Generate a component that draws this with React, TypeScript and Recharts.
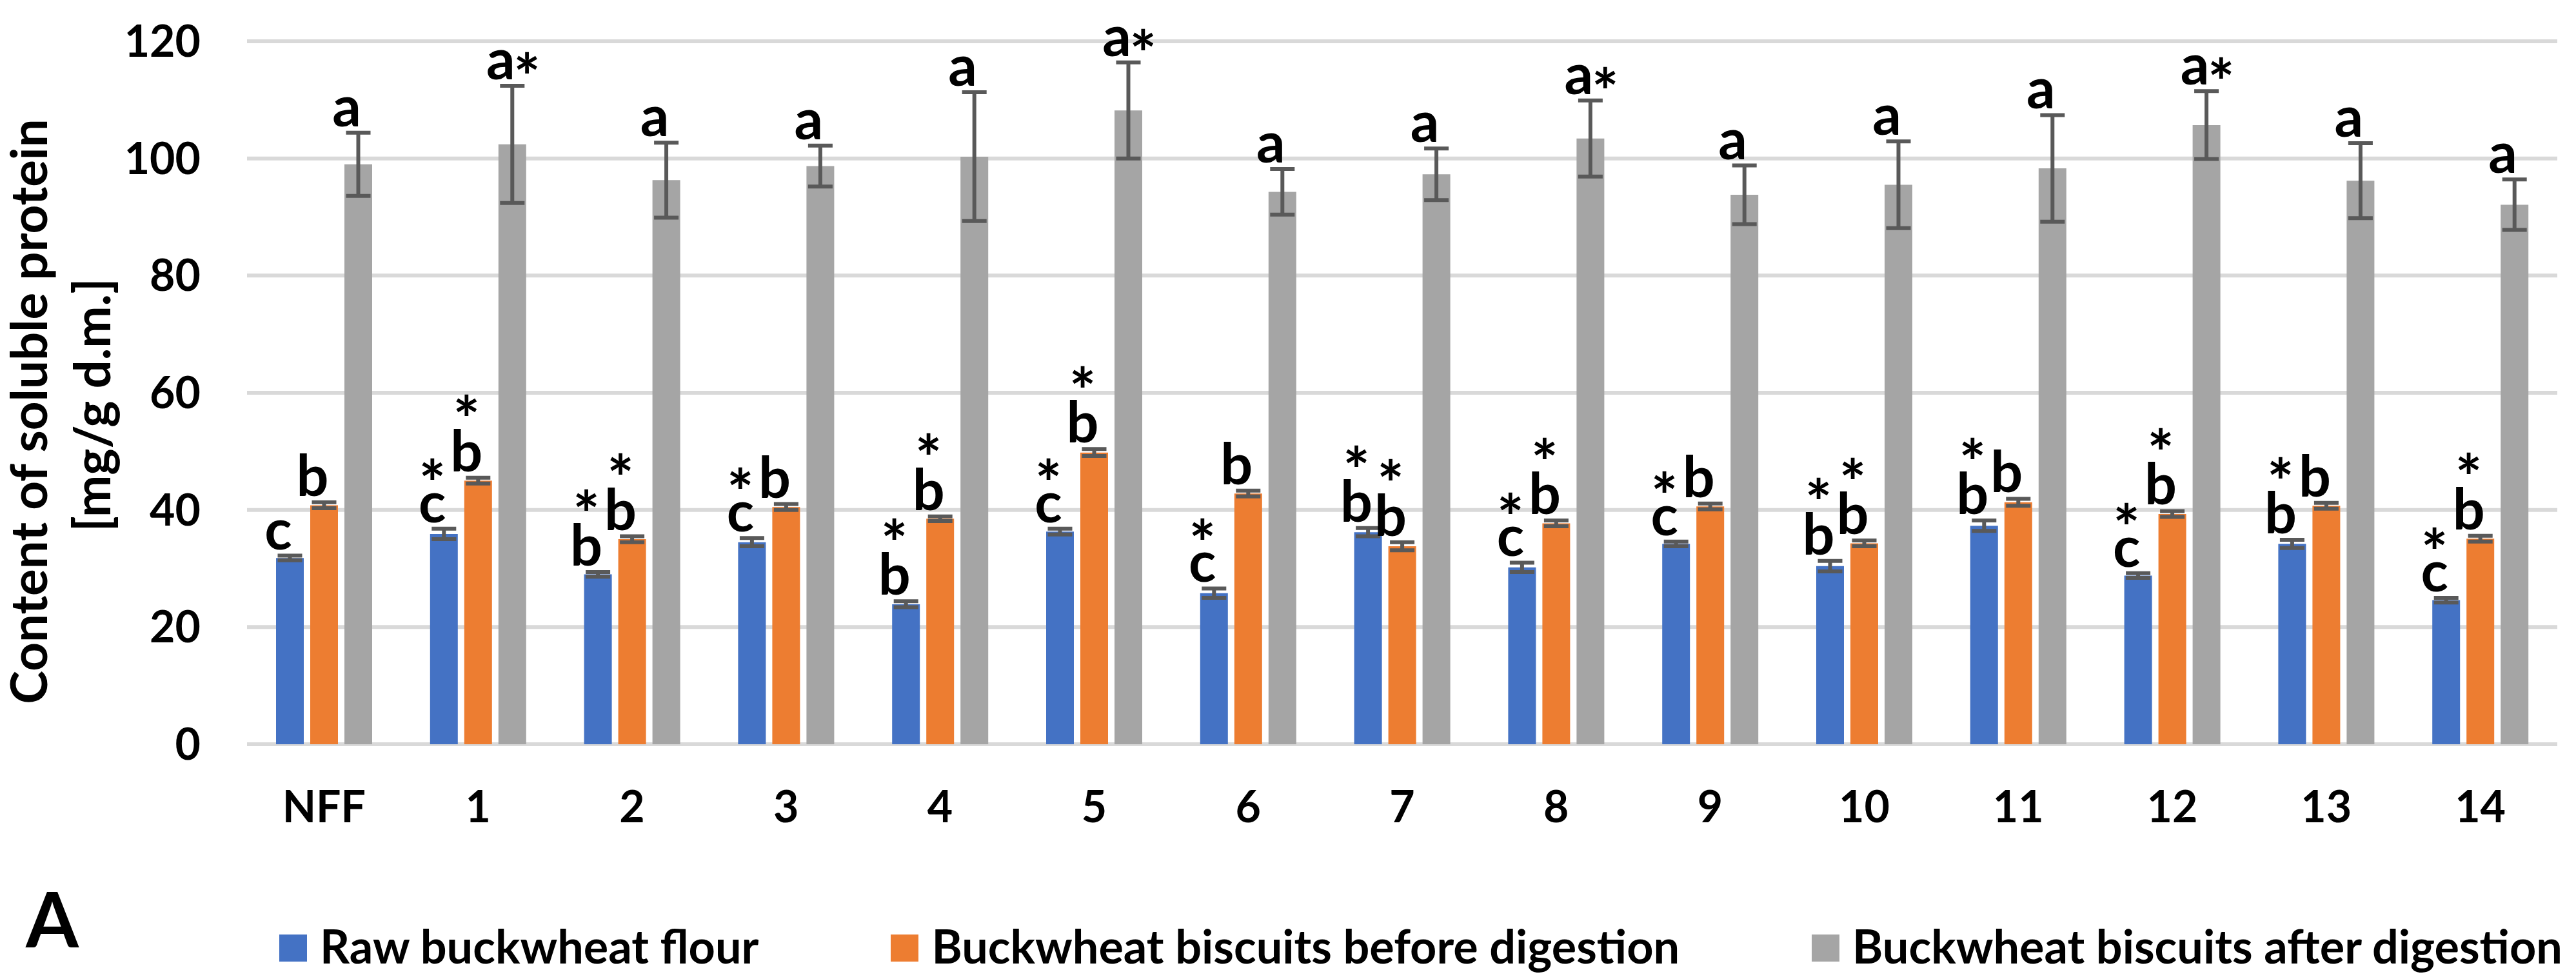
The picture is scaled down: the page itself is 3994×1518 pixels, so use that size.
import React from 'react';
import { BarChart, Bar, XAxis, YAxis, CartesianGrid, ErrorBar, LabelList } from 'recharts';

const categories = ['NFF', '1', '2', '3', '4', '5', '6', '7', '8', '9', '10', '11', '12', '13', '14'];

const rawFlour = [31.8, 35.9, 29.0, 34.5, 23.9, 36.3, 25.8, 36.2, 30.2, 34.2, 30.4, 37.3, 28.8, 34.2, 24.6];
const rawFlourErr = [0.4, 0.9, 0.4, 0.7, 0.5, 0.5, 0.8, 0.7, 0.8, 0.4, 0.9, 0.9, 0.4, 0.7, 0.4];
const rawFlourMarks = ['c', '*c', '*b', '*c', '*b', '*c', '*c', '*b', '*c', '*c', '*b', '*b', '*c', '*b', '*c'];

const beforeDigestion = [40.8, 45.0, 35.0, 40.5, 38.5, 49.8, 42.8, 33.8, 37.7, 40.6, 34.3, 41.3, 39.3, 40.7, 35.1];
const beforeErr = [0.5, 0.5, 0.5, 0.5, 0.4, 0.6, 0.5, 0.7, 0.5, 0.5, 0.5, 0.6, 0.5, 0.5, 0.5];
const beforeMarks = ['b', '*b', '*b', 'b', '*b', '*b', 'b', '*b', '*b', 'b', '*b', 'b', '*b', 'b', '*b'];

const afterDigestion = [99.0, 102.4, 96.3, 98.7, 100.3, 108.2, 94.3, 97.3, 103.4, 93.8, 95.5, 98.3, 105.7, 96.2, 92.1];
const afterErr = [5.4, 10.0, 6.4, 3.5, 11.0, 8.2, 3.9, 4.4, 6.5, 5.0, 7.4, 9.1, 5.8, 6.4, 4.3];
const afterMarks = ['a', 'a*', 'a', 'a', 'a', 'a*', 'a', 'a', 'a*', 'a', 'a', 'a', 'a*', 'a', 'a'];

const yTicks = [0, 20, 40, 60, 80, 100, 120];

const seriesNames = ['Raw buckwheat flour', 'Buckwheat biscuits before digestion', 'Buckwheat biscuits after digestion'];
const colors = ['#4472C4', '#ED7D31', '#A5A5A5'];

const data = categories.map((name, i) => ({
  name,
  raw: rawFlour[i],
  rawErr: rawFlourErr[i],
  before: beforeDigestion[i],
  beforeErr: beforeErr[i],
  after: afterDigestion[i],
  afterErr: afterErr[i],
}));

const FONT = 'Lato, "Open Sans", sans-serif';
const LABEL_SIZE = 88;
const STAR_SIZE = 98;

// letter above each bar, star either stacked on top ("*b") or inline ("a*")
const makeMarkLabel = (marks: string[], errs: number[], values: number[]) => (props: any) => {
  const vb = props.viewBox && props.viewBox.width != null ? props.viewBox : props;
  const index = props.index;
  if (index == null || vb.width == null) return null;
  const top = Math.min(vb.y, vb.y + vb.height);
  const h = Math.abs(vb.height);
  const pxPerUnit = h / values[index];
  const errTop = top - errs[index] * pxPerUnit;
  const cx = vb.x + vb.width / 2 - 18;
  const base = errTop - 10;
  const mark = marks[index];
  const letter = mark.replace('*', '');
  const starAbove = mark.startsWith('*');
  const starInline = !starAbove && mark.endsWith('*');
  const letterTop = base - (letter === 'b' ? 0.73 : 0.51) * LABEL_SIZE;
  const common = { fontFamily: FONT, fontWeight: 700, fill: '#000' };
  return (
    <g>
      <text x={cx} y={base} textAnchor="middle" fontSize={LABEL_SIZE} {...common}>
        {letter}
      </text>
      {starAbove && (
        <text x={cx} y={letterTop + 20} textAnchor="middle" fontSize={STAR_SIZE} {...common}>
          *
        </text>
      )}
      {starInline && (
        <text x={cx + 20} y={base + 32} textAnchor="start" fontSize={STAR_SIZE} {...common}>
          *
        </text>
      )}
    </g>
  );
};

const YTitle = () => (
  <g fontFamily={FONT} fontWeight={700} fontSize={78} fill="#000">
    <text transform="translate(73,638) rotate(-90)" textAnchor="middle">
      Content of soluble protein
    </text>
    <text transform="translate(171,628) rotate(-90)" textAnchor="middle">
      [mg/g d.m.]
    </text>
  </g>
);

export default function App() {
  const tickStyle = { fill: '#000', fontSize: 68, fontWeight: 700, fontFamily: FONT };
  return (
    <div style={{ position: 'absolute', left: 0, top: 0, width: 3994, height: 1518, background: '#fff' }}>
      <BarChart
        width={3994}
        height={1518}
        data={data}
        margin={{ top: 64, right: 29, bottom: 0, left: 0 }}
        barSize={43}
        barGap={10}
      >
        <CartesianGrid vertical={false} stroke="#D9D9D9" strokeWidth={6} />
        <XAxis
          dataKey="name"
          height={364}
          axisLine={false}
          tickLine={false}
          tickMargin={67}
          tick={tickStyle}
          interval={0}
        />
        <YAxis
          width={383}
          domain={[0, 120]}
          ticks={yTicks}
          axisLine={false}
          tickLine={false}
          tickMargin={66}
          tick={tickStyle}
          label={{ content: () => <YTitle /> }}
        />
        <Bar dataKey="raw" name={seriesNames[0]} fill={colors[0]} isAnimationActive={false}>
          <ErrorBar dataKey="rawErr" width={19} stroke="#595959" strokeWidth={6} isAnimationActive={false} />
          <LabelList dataKey="raw" content={makeMarkLabel(rawFlourMarks, rawFlourErr, rawFlour)} />
        </Bar>
        <Bar dataKey="before" name={seriesNames[1]} fill={colors[1]} isAnimationActive={false}>
          <ErrorBar dataKey="beforeErr" width={19} stroke="#595959" strokeWidth={6} isAnimationActive={false} />
          <LabelList dataKey="before" content={makeMarkLabel(beforeMarks, beforeErr, beforeDigestion)} />
        </Bar>
        <Bar dataKey="after" name={seriesNames[2]} fill={colors[2]} isAnimationActive={false}>
          <ErrorBar dataKey="afterErr" width={19} stroke="#595959" strokeWidth={6} isAnimationActive={false} />
          <LabelList dataKey="after" content={makeMarkLabel(afterMarks, afterErr, afterDigestion)} />
        </Bar>
      </BarChart>

      <div
        style={{
          position: 'absolute',
          left: 40,
          top: 1365,
          fontFamily: FONT,
          fontWeight: 700,
          fontSize: 118,
          lineHeight: 1,
          color: '#000',
        }}
      >
        A
      </div>

      <div
        style={{
          position: 'absolute',
          left: 433,
          top: 1430,
          display: 'flex',
          alignItems: 'flex-start',
          gap: 205,
          fontFamily: FONT,
          fontWeight: 700,
          fontSize: 72,
          lineHeight: 1,
          color: '#000',
          whiteSpace: 'nowrap',
        }}
      >
        {seriesNames.map((s, i) => (
          <div key={s} style={{ display: 'flex', alignItems: 'flex-start' }}>
            <span style={{ display: 'inline-block', width: 43, height: 42, marginTop: 19, background: colors[i] }} />
            <span style={{ marginLeft: 20 }}>{s}</span>
          </div>
        ))}
      </div>
    </div>
  );
}
